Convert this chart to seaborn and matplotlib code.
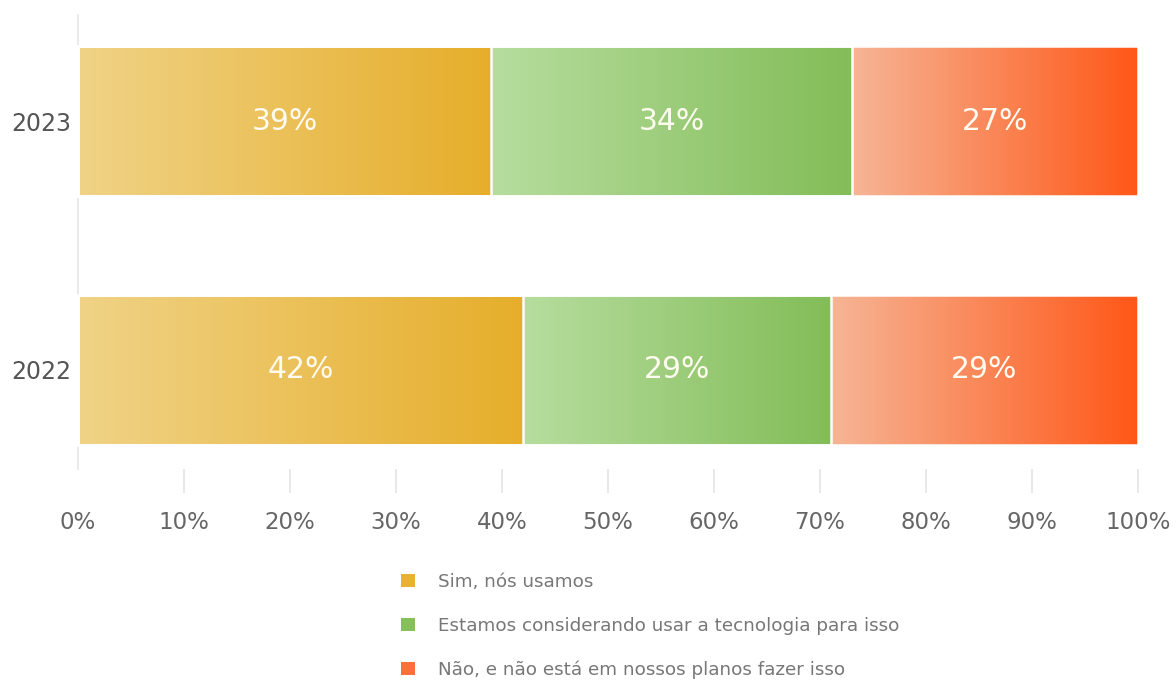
import numpy as np
import pandas as pd
import matplotlib
matplotlib.use("Agg")
import matplotlib.pyplot as plt
from matplotlib.colors import LinearSegmentedColormap
from matplotlib.patches import Patch
import seaborn as sns

# Survey answers per year (percent of respondents)
years = ["2023", "2022"]
answers = [
    "Sim, nós usamos",
    "Estamos considerando usar a tecnologia para isso",
    "Não, e não está em nossos planos fazer isso",
]
sim_values = [39, 42]
considerando_values = [34, 29]
nao_values = [27, 29]
x_ticks = [0, 10, 20, 30, 40, 50, 60, 70, 80, 90, 100]

# (light, dark) gradient ends for each answer, plus a solid legend swatch
gradients = [("#F0D387", "#E6AE2A"), ("#B6DD9E", "#83BD58"), ("#F6B596", "#FF5717")]
swatches = ["#E8B131", "#86C05A", "#FA6F3A"]

sns.set_theme(style="white")
plt.rcParams["font.family"] = ["DejaVu Sans"]

df = pd.DataFrame({
    "year": years,
    answers[0]: sim_values,
    answers[1]: considerando_values,
    answers[2]: nao_values,
})
# Running totals so each stacked segment ends at its cumulative share
cum_cols = []
running = np.zeros(len(years))
for ans in answers:
    running = running + df[ans].to_numpy()
    col = f"cum_{ans}"
    df[col] = running
    cum_cols.append(col)

fig = plt.figure(figsize=(11.76, 6.8), dpi=100)
ax = fig.add_axes([78 / 1176, 1 - 469 / 680, (1138 - 78) / 1176, (469 - 15) / 680])

# Draw the widest totals first; narrower ones sit on top
bars_by_answer = {}
for i in reversed(range(len(answers))):
    n_before = len(ax.patches)
    sns.barplot(data=df, x=cum_cols[i], y="year", order=years, orient="h", ax=ax,
                width=0.6, facecolor="none", edgecolor="white",
                linewidth=1.8, zorder=3 + (len(answers) - i) * 0.01)
    bars_by_answer[i] = ax.patches[n_before:]
    for p in bars_by_answer[i]:
        p.set_clip_on(False)

# Horizontal gradient fill inside each segment, plus the value label
for i, ans in enumerate(answers):
    for r, p in enumerate(bars_by_answer[i]):
        x1 = p.get_width()
        x0 = bars_by_answer[i - 1][r].get_width() if i > 0 else 0.0
        y0, h = p.get_y(), p.get_height()
        cmap = LinearSegmentedColormap.from_list(f"g{i}", list(gradients[i]))
        grad = np.linspace(0, 1, 256).reshape(1, -1)
        ax.imshow(grad, cmap=cmap, aspect="auto", interpolation="bicubic",
                  extent=(x0, x1, y0 + h, y0), zorder=2)
        ax.text((x0 + x1) / 2, y0 + h / 2, f"{df[ans].iloc[r]}%", ha="center",
                va="center", color="#FFFBF0", fontsize=21.5, zorder=4)

ax.set_xlim(0, 100)
ax.set_ylim(1.398, -0.426)
ax.set_xlabel("")
ax.set_ylabel("")

ax.set_xticks(x_ticks)
ax.set_xticklabels([f"{t}%" for t in x_ticks])
ax.tick_params(axis="x", bottom=True, length=17, width=1.2, color="#E4E4E4",
               direction="out", pad=13, labelsize=16.5, labelcolor="#666666")
ax.xaxis.get_major_ticks()[0].tick1line.set_visible(False)
ax.tick_params(axis="y", left=False, length=0, pad=5, labelsize=17,
               labelcolor="#555555")

for side in ["top", "right", "bottom"]:
    ax.spines[side].set_visible(False)
ax.spines["left"].set_color("#E6E6E6")
ax.spines["left"].set_linewidth(1.2)
ax.grid(False)

handles = [Patch(facecolor=c, edgecolor="none") for c in swatches]
fig.legend(handles, answers, loc="upper left",
           bbox_to_anchor=(401 / 1176, 1 - 573 / 680), frameon=False,
           fontsize=13.2, labelcolor="#777777", handlelength=0.75,
           handleheight=0.75, handletextpad=1.25, labelspacing=1.4,
           borderpad=0, borderaxespad=0)

fig.savefig("out.png", dpi=100, facecolor="white")
